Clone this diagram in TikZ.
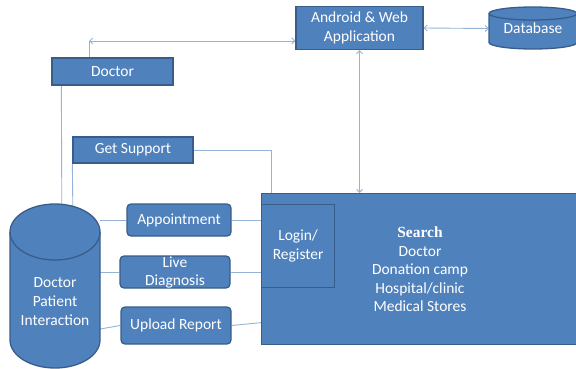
\documentclass[tikz,border=0pt]{standalone}
\usepackage{fontspec}
\setmainfont{Carlito}
\newfontfamily\srf{Liberation Serif}
\usetikzlibrary{calc}
\usetikzlibrary{arrows.meta}
\usetikzlibrary{backgrounds}

\definecolor{boxblue}{RGB}{79,129,189}
\definecolor{boxedge}{RGB}{56,93,138}
\definecolor{linkblue}{RGB}{149,179,215}

\begin{document}
\begin{tikzpicture}[x=1pt,y=-1pt,
  blk/.style={draw=boxedge,fill=boxblue,text=white,line width=1.3pt,inner sep=0pt,
    font=\fontsize{15.5}{19}\selectfont,align=center},
  rblk/.style={blk,rounded corners=4pt},
  txt/.style={text=white,inner sep=0pt,align=center,font=\fontsize{15.5}{19}\selectfont},
  link/.style={draw=linkblue,line width=0.9pt},
  >={Straight Barb[length=3pt,width=6pt]}]
\useasboundingbox (0,0) rectangle (576,369);
\clip (0,0) rectangle (576,369);

\path[draw=boxedge,fill=boxblue,line width=1.3pt] (489,13.5) -- (489,42.5)
  arc[start angle=180,end angle=360,x radius=44pt,y radius=6.5pt] -- (577,13.5)
  arc[start angle=0,end angle=180,x radius=44pt,y radius=6.5pt] -- cycle;
\draw[boxedge,line width=1.3pt] (489,13.5)
  arc[start angle=180,end angle=360,x radius=44pt,y radius=6.5pt];
\path[draw=boxedge,fill=boxblue,line width=1.3pt] (10,232) -- (10,340)
  arc[start angle=180,end angle=360,x radius=45pt,y radius=28pt] -- (100,232)
  arc[start angle=0,end angle=180,x radius=45pt,y radius=28pt] -- cycle;
\draw[boxedge,line width=1.3pt] (10,232)
  arc[start angle=180,end angle=360,x radius=45pt,y radius=28pt];

\node[blk,minimum width=127pt,minimum height=43pt] (app) at (359.5,28) {Android \& Web\\Application};
\node[txt,minimum width=88pt,minimum height=42pt] (db) at (533,28.5) {Database};
\node[blk,minimum width=121pt,minimum height=27pt] (doc) at (112.5,71.5) {Doctor};
\node[blk,minimum width=120pt,minimum height=26pt] (support) at (133,150) {Get Support};
\node[rblk,minimum width=104pt,minimum height=32pt] (appt) at (179,220) {Appointment};
\node[rblk,minimum width=110pt,minimum height=32pt,font=\fontsize{15.5}{18}\selectfont] (live) at (175,272) {Live\\Diagnosis};
\node[rblk,minimum width=110pt,minimum height=37pt] (upload) at (176,325.5) {Upload Report};
\node[blk,minimum width=330pt,minimum height=151pt,anchor=north west] (search) at (261,193) {};
\node[blk,minimum width=73pt,minimum height=83pt,anchor=north west] (login) at (261,204) {Login/\\Register};
\node[txt,font=\fontsize{15.5}{18.5}\selectfont] (find) at (420,269.5)
  {{\srf\bfseries Search}\\Doctor\\Donation camp\\Hospital/clinic\\Medical Stores};
\node[minimum width=90pt,minimum height=164pt,inner sep=0pt] (dpibody) at (55,286) {};
\node[txt] (dpi) at (55,302) {Doctor\\Patient\\Interaction};
\coordinate (corner) at (89,41);

\begin{pgfonlayer}{background}
\draw[link] (doc.north -| corner) -- (corner);
\draw[link,<->] (corner) -- (corner -| app.west);
\draw[link,<->] (app.east) -- (db.west);
\draw[link,<->] (app.south) -- (app.south |- search.north);
\draw[link] (support.east) -| ($(search.north west)+(10,0)$);
\draw[link] ($(doc.south west)+(10,0)$) -- ($(dpibody.north west)+(52,0)$);
\draw[link] (support.south west) -- ($(dpibody.north west)+(63,2)$);
\draw[link] (appt.west) -- (appt.west -| dpibody.east);
\draw[link] (appt.east) -- (appt.east -| search.west);
\draw[link] (live.west) -- (live.west -| dpibody.east);
\draw[link] (live.east) -- (live.east -| search.west);
\draw[link] (upload.west) -- ($(dpibody.east)+(0,43)$);
\draw[link] (upload.east) -- ($(search.west)+(0,53.5)$);
\end{pgfonlayer}
\end{tikzpicture}
\end{document}
